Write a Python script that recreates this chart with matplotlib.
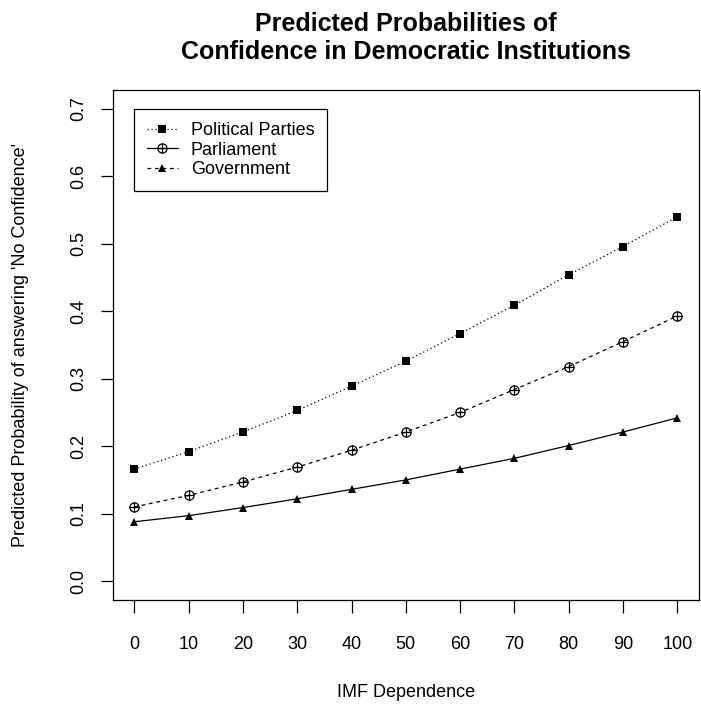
import matplotlib
matplotlib.use("Agg")
import matplotlib.pyplot as plt
from matplotlib.lines import Line2D
from matplotlib.legend_handler import HandlerTuple

plt.rcParams['font.family'] = ['Liberation Sans', 'DejaVu Sans']

# IMF dependence levels
imf = [0, 10, 20, 30, 40, 50, 60, 70, 80, 90, 100]

# predicted probabilities of 'No Confidence'
parties = [0.166, 0.192, 0.221, 0.253, 0.289, 0.326, 0.367, 0.409, 0.454, 0.496, 0.540]
parliament = [0.110, 0.127, 0.147, 0.169, 0.194, 0.221, 0.250, 0.284, 0.318, 0.355, 0.393]
government = [0.088, 0.097, 0.109, 0.122, 0.136, 0.150, 0.166, 0.182, 0.201, 0.221, 0.242]

yticks = [0.0, 0.1, 0.2, 0.3, 0.4, 0.5, 0.6, 0.7]
labels = ['Political Parties', 'Parliament', 'Government']

fig = plt.figure(figsize=(7.01, 7.04), dpi=100)
ax = fig.add_axes([112.6 / 701, 104 / 704, (699 - 112.6) / 701, 510 / 704])

lw = 0.9
dot = (1.0, 2.2)
dash = (3.0, 3.0)
ms = 5.6
ms_c = 6.6

# political parties: dotted, filled squares
ax.plot(imf, parties, color='black', lw=lw, linestyle=(0, dot),
        marker='s', markersize=ms, markeredgewidth=0)
# parliament points: dashed, circle-plus
ax.plot(imf, parliament, color='black', lw=lw, linestyle=(0, dash))
ax.plot(imf, parliament, linestyle='none', marker='o', markersize=ms_c,
        markerfacecolor='none', markeredgecolor='black', markeredgewidth=lw)
ax.plot(imf, parliament, linestyle='none', marker='+', markersize=ms_c,
        markeredgecolor='black', markeredgewidth=lw)
# government points: solid, filled triangles
ax.plot(imf, government, color='black', lw=lw, linestyle='-',
        marker='^', markersize=ms + 0.6, markeredgewidth=0)

ax.set_xlim(-4, 104)
ax.set_ylim(-0.028, 0.728)
ax.set_xticks(imf)
ax.set_xticklabels([str(v) for v in imf])
ax.set_yticks(yticks)
ax.set_yticklabels(['%.1f' % v for v in yticks], rotation=90, va='center')
ax.tick_params(axis='both', direction='out', length=9, width=lw, labelsize=13,
               color='black')
ax.tick_params(axis='x', pad=17)
ax.tick_params(axis='y', pad=9)
for sp in ax.spines.values():
    sp.set_linewidth(lw)

ax.set_xlabel('IMF Dependence', fontsize=13, labelpad=22)
ax.set_ylabel("Predicted Probability of answering 'No Confidence'", fontsize=13,
              labelpad=30)

fig.text(405.8 / 701, 1 - 38 / 704,
         'Predicted Probabilities of\nConfidence in Democratic Institutions',
         ha='center', va='center', fontsize=18, fontweight='bold', linespacing=1.2)

# legend (as drawn in the original)
h_pp = Line2D([], [], color='black', lw=lw, linestyle=(0, dot), marker='s',
              markersize=ms, markeredgewidth=0)
h_pa_line = Line2D([], [], color='black', lw=lw, linestyle='-')
h_pa_o = Line2D([], [], linestyle='none', marker='o', markersize=ms_c,
                markerfacecolor='none', markeredgecolor='black', markeredgewidth=lw)
h_pa_p = Line2D([], [], linestyle='none', marker='+', markersize=ms_c,
                markeredgecolor='black', markeredgewidth=lw)
h_go = Line2D([], [], color='black', lw=lw, linestyle=(0, dash), marker='^',
              markersize=ms + 0.6, markeredgewidth=0)

leg = ax.legend([h_pp, (h_pa_line, h_pa_o, h_pa_p), h_go], labels,
                handler_map={tuple: HandlerTuple(ndivide=1)},
                loc='upper left', bbox_to_anchor=(0.0365, 0.962),
                borderaxespad=0, fontsize=13, numpoints=1, handlelength=1.75,
                handletextpad=0.7, labelspacing=0.15, borderpad=0.7,
                fancybox=False, framealpha=1, edgecolor='black')
leg.get_frame().set_linewidth(lw)

fig.savefig('out.png', dpi=100)
